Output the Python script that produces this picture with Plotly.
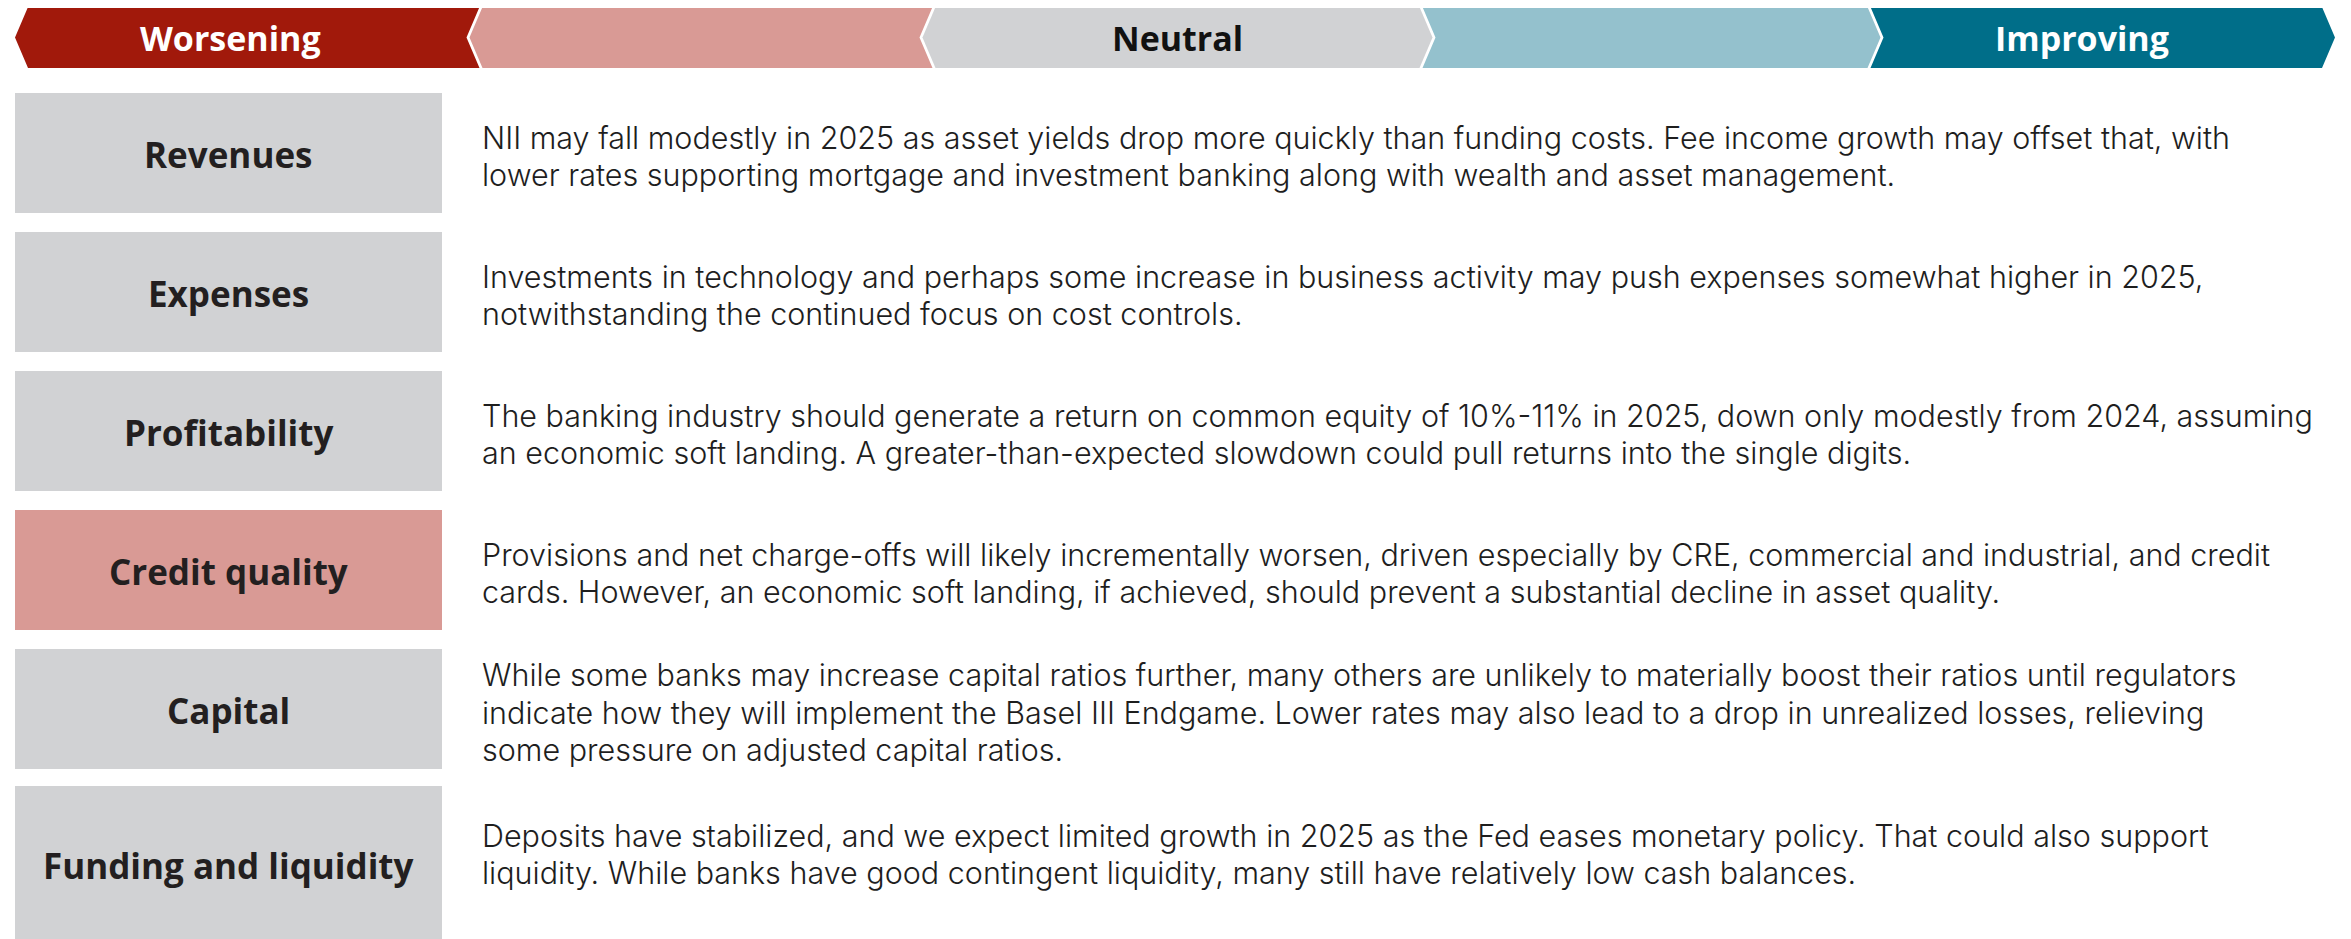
import plotly.graph_objects as go

# Scale along the top
scale_labels = ["Worsening", "", "Neutral", "", "Improving"]
scale_colors = ["#A1190B", "#D99A95", "#D1D2D4", "#94C1CD", "#006E89"]
scale_text_colors = ["#FFFFFF", "#FFFFFF", "#111111", "#FFFFFF", "#FFFFFF"]

# Rows
categories = ["Revenues", "Expenses", "Profitability", "Credit quality", "Capital", "Funding and liquidity"]
outlook = ["Neutral", "Neutral", "Neutral", "Worsening-lean", "Neutral", "Neutral"]
descriptions = [
    "NII may fall modestly in 2025 as asset yields drop more quickly than funding costs. Fee income growth may offset that, with<br>"
    "lower rates supporting mortgage and investment banking along with wealth and asset management.",
    "Investments in technology and perhaps some increase in business activity may push expenses somewhat higher in 2025,<br>"
    "notwithstanding the continued focus on cost controls.",
    "The banking industry should generate a return on common equity of 10%-11% in 2025, down only modestly from 2024, assuming<br>"
    "an economic soft landing. A greater-than-expected slowdown could pull returns into the single digits.",
    "Provisions and net charge-offs will likely incrementally worsen, driven especially by CRE, commercial and industrial, and credit<br>"
    "cards. However, an economic soft landing, if achieved, should prevent a substantial decline in asset quality.",
    "While some banks may increase capital ratios further, many others are unlikely to materially boost their ratios until regulators<br>"
    "indicate how they will implement the Basel III Endgame. Lower rates may also lead to a drop in unrealized losses, relieving<br>"
    "some pressure on adjusted capital ratios.",
    "Deposits have stabilized, and we expect limited growth in 2025 as the Fed eases monetary policy. That could also support<br>"
    "liquidity. While banks have good contingent liquidity, many still have relatively low cash balances.",
]
box_colors = {"Neutral": "#D1D2D4", "Worsening-lean": "#D99A95"}

W, H = 2351, 939
OFF = 8  # page body margin
fig = go.Figure()

# header chevrons
top, bot = 7, 68
mid = (top + bot) / 2
d = 13
bounds = [15, 481, 934, 1421, 1869, 2335]
# direction of each inner boundary: -1 points left, +1 points right
dirs = [-1, -1, 1, 1]
text_shift = [-18, 0, 0, 0, -20]
for i, lab in enumerate(scale_labels):
    if i == 0:
        lt, lm = bounds[0] + d, bounds[0]
    else:
        b = bounds[i] + 1.5
        lt, lm = b, b + dirs[i - 1] * d
    if i == len(scale_labels) - 1:
        rt, rm = bounds[-1] - d, bounds[-1]
    else:
        b = bounds[i + 1] - 1.5
        rt, rm = b, b + dirs[i] * d
    path = f"M {lt},{top} L {rt},{top} L {rm},{mid} L {rt},{bot} L {lt},{bot} L {lm},{mid} Z"
    fig.add_shape(type="path", path=path, fillcolor=scale_colors[i], line=dict(width=0), layer="below")
    if lab:
        fig.add_annotation(x=(bounds[i] + bounds[i + 1]) / 2 + text_shift[i], y=mid,
                           text=f"<b>{lab}</b>", showarrow=False,
                           font=dict(family="Open Sans", size=34, color=scale_text_colors[i]),
                           xanchor="center", yanchor="middle")

# rows
row_top = [93, 232, 371, 510, 649, 786]
row_bot = [213, 352, 491, 630, 769, 939]
pitch = 37.5
for i, cat in enumerate(categories):
    fig.add_shape(type="rect", x0=15, x1=442, y0=row_top[i], y1=row_bot[i],
                  fillcolor=box_colors[outlook[i]], line=dict(width=0), layer="below")
    yc = (row_top[i] + row_bot[i]) / 2
    y_lab, y_txt = yc + 1, yc + 3
    if row_bot[i] - row_top[i] > 130:
        y_lab, y_txt = row_top[i] + 79, row_top[i] + 68
    fig.add_annotation(x=228, y=y_lab, text=f"<b>{cat}</b>", showarrow=False,
                       font=dict(family="Open Sans", size=35, color="#231F20"),
                       xanchor="center", yanchor="middle")
    lines = descriptions[i].split("<br>")
    for j, line in enumerate(lines):
        fig.add_annotation(x=480, y=y_txt + (j - (len(lines) - 1) / 2) * pitch, text=line,
                           showarrow=False, align="left",
                           font=dict(family="Inter", size=30.5, color="#1E1E1E", weight=300),
                           xanchor="left", yanchor="middle")

fig.update_xaxes(range=[OFF, W + OFF], visible=False)
fig.update_yaxes(range=[H + OFF, OFF], visible=False)
fig.update_layout(width=W, height=H, margin=dict(l=0, r=0, t=0, b=0),
                  plot_bgcolor="white", paper_bgcolor="white", showlegend=False)

fig.write_html("out.html")
